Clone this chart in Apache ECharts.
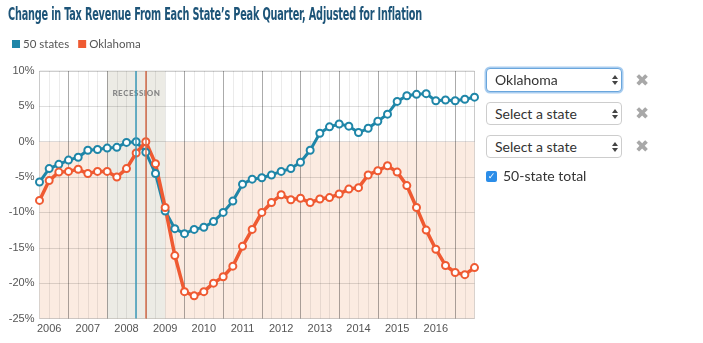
<!DOCTYPE html>
<html>
<head>
<meta charset="utf-8">
<script src="https://cdn.jsdelivr.net/npm/echarts@6/dist/echarts.min.js"></script>
<style>
  html, body { margin: 0; padding: 0; background: #fff; }
  #wrap { position: relative; width: 703px; height: 343px; overflow: hidden; }
  #chart { position: absolute; left: 0; top: 0; width: 703px; height: 343px; }
  #title {
    position: absolute; left: 8px; top: 4px; white-space: nowrap;
    font: bold 17px "DejaVu Sans Condensed", "Liberation Sans Narrow", sans-serif;
    color: #1d5478; transform-origin: 0 0; letter-spacing: -0.3px;
  }
  .sel {
    position: absolute; left: 486px; width: 136px; height: 23px;
    box-sizing: border-box; border: 1px solid #cdcdcd; border-radius: 4px;
    background: #fff; font: 14px Lato, sans-serif; color: #333;
    line-height: 21px; padding-left: 8px;
  }
  .sel.focus { border: 1px solid #6aa6dc; box-shadow: 0 0 0 1.5px #a9cdf0; }
  .arr { position: absolute; right: 6px; top: 6px; width: 0; height: 0; }
  .arr::before, .arr::after {
    content: ""; position: absolute; left: -3px; width: 0; height: 0;
    border-left: 3px solid transparent; border-right: 3px solid transparent;
  }
  .arr::before { top: 0; border-bottom: 4px solid #444; }
  .arr::after { top: 6px; border-top: 4px solid #444; }
  .x {
    position: absolute; left: 634px; width: 16px; height: 16px;
    font: 17px "DejaVu Sans", sans-serif; color: #a8a8a8; line-height: 16px;
    text-align: center;
  }
  .chk {
    position: absolute; left: 486px; top: 171px; width: 11px; height: 11px;
    border-radius: 2px; background: #2b8de8; color: #fff;
    font: bold 9px "DejaVu Sans", sans-serif; line-height: 11px; text-align: center;
  }
  .chkl { position: absolute; left: 503px; top: 167px; font: 14px Lato, sans-serif; color: #333; }
</style>
</head>
<body>
<div id="wrap">
  <div id="chart"></div>
  <div id="title">Change in Tax Revenue From Each State’s Peak Quarter, Adjusted for Inflation</div>
  <div class="sel focus" style="top:68px;height:24px;">Oklahoma<span class="arr"></span></div>
  <div class="x" style="top:72px;">✖</div>
  <div class="sel" style="top:102px;">Select a state<span class="arr"></span></div>
  <div class="x" style="top:105px;">✖</div>
  <div class="sel" style="top:135px;">Select a state<span class="arr"></span></div>
  <div class="x" style="top:138px;">✖</div>
  <div class="chk">✓</div>
  <div class="chkl">50-state total</div>
</div>
<script>
// Fit the condensed headline to its column width
(function () {
  const t = document.getElementById('title');
  const w = t.getBoundingClientRect().width;
  t.style.transform = 'scaleX(' + (414 / w) + ')';
})();

// Quarterly periods on the x axis
const quarters = [
  '2006 Q1','2006 Q2','2006 Q3','2006 Q4',
  '2007 Q1','2007 Q2','2007 Q3','2007 Q4',
  '2008 Q1','2008 Q2','2008 Q3','2008 Q4',
  '2009 Q1','2009 Q2','2009 Q3','2009 Q4',
  '2010 Q1','2010 Q2','2010 Q3','2010 Q4',
  '2011 Q1','2011 Q2','2011 Q3','2011 Q4',
  '2012 Q1','2012 Q2','2012 Q3','2012 Q4',
  '2013 Q1','2013 Q2','2013 Q3','2013 Q4',
  '2014 Q1','2014 Q2','2014 Q3','2014 Q4',
  '2015 Q1','2015 Q2','2015 Q3','2015 Q4',
  '2016 Q1','2016 Q2','2016 Q3','2016 Q4',
  '2017 Q1','2017 Q2'
];
// Year labels shown under the axis
const yearLabels = ['2006','2007','2008','2009','2010','2011','2012','2013','2014','2015','2016'];

// Percent change from each peak quarter
const states50 = [
  -5.7, -3.8, -3.2, -2.6, -2.2, -1.2, -1.1, -0.9, -0.8, -0.1,
  0.0, -1.5, -4.5, -9.8, -12.3, -13.0, -12.4, -12.1, -11.3, -10.0,
  -8.4, -6.0, -5.3, -5.1, -4.7, -4.2, -3.8, -2.9, -1.2, 1.2,
  2.1, 2.5, 2.2, 1.3, 1.9, 2.9, 3.9, 5.7, 6.5, 6.7,
  6.8, 5.8, 5.9, 5.8, 6.0, 6.3
];
const oklahoma = [
  -8.3, -5.5, -4.3, -4.2, -3.9, -4.5, -4.2, -4.2, -5.0, -3.8,
  -1.6, 0.0, -3.1, -9.3, -16.1, -21.2, -21.8, -21.2, -20.0, -19.1,
  -17.6, -14.8, -12.4, -10.0, -8.6, -7.5, -8.2, -8.0, -8.6, -8.1,
  -7.9, -7.4, -6.7, -6.5, -4.7, -4.1, -3.4, -4.3, -6.2, -9.3,
  -12.5, -15.2, -17.5, -18.5, -18.8, -17.8
];

const recession = ['2007 Q4', '2009 Q2'];
const peak50 = '2008 Q3';
const peakOK = '2008 Q4';
const yMin = -25, yMax = 10, yStep = 5;

const BLUE = '#1f86a8';
const ORANGE = '#ef5a32';

const chart = echarts.init(document.getElementById('chart'), null, { renderer: 'canvas' });

chart.setOption({
  animation: false,
  legend: {
    left: 7, top: 33, itemWidth: 8, itemHeight: 8, itemGap: 9,
    icon: 'rect',
    textStyle: { fontFamily: 'Lato, sans-serif', fontSize: 11.5, color: '#555', padding: [0, 0, 0, -2] },
    data: [
      { name: '50 states', itemStyle: { color: BLUE, borderWidth: 0 } },
      { name: 'Oklahoma', itemStyle: { color: ORANGE, borderWidth: 0 } }
    ]
  },
  grid: {
    left: 39.5, right: 228.5, top: 71, bottom: 24.5,
    show: true, backgroundColor: '#fff', borderColor: '#dcdcdc', borderWidth: 1
  },
  xAxis: [
    {
      type: 'category', data: quarters, boundaryGap: false, z: 2,
      axisLine: { show: false }, axisTick: { show: false },
      axisLabel: {
        interval: (i, v) => v.endsWith('Q2') && yearLabels.includes(v.slice(0, 4)),
        formatter: (v) => v.slice(0, 4),
        fontFamily: '"Liberation Sans", Arial, sans-serif', fontSize: 11, color: '#555', margin: 5
      },
      splitLine: { show: true, interval: 0, lineStyle: { color: 'rgba(0,0,0,0.08)', width: 1 } }
    },
    {
      type: 'category', data: quarters, boundaryGap: false, z: 2, position: 'bottom',
      axisLine: { show: false }, axisTick: { show: false }, axisLabel: { show: false },
      splitLine: { show: true, interval: (i) => i % 4 === 3, lineStyle: { color: 'rgba(0,0,0,0.27)', width: 1 } }
    }
  ],
  yAxis: {
    type: 'value', min: yMin, max: yMax, interval: yStep, z: 2,
    axisLine: { show: false }, axisTick: { show: false },
    axisLabel: {
      formatter: '{value}%', fontFamily: '"Liberation Sans", Arial, sans-serif',
      fontSize: 11, color: '#555', margin: 5
    },
    splitLine: { lineStyle: { color: 'rgba(0,0,0,0.13)', width: 1 } }
  },
  series: [
    {
      name: 'bands', type: 'line', data: [], z: 1, silent: true,
      markArea: {
        silent: true,
        data: [
          [{ yAxis: 0, itemStyle: { color: '#fbebe1' } }, { yAxis: yMin }],
          [{
            xAxis: recession[0], itemStyle: { color: '#ecebe5' },
            label: {
              show: true, position: 'insideTop', distance: 18,
              formatter: 'R\u200AE\u200AC\u200AE\u200AS\u200AS\u200AI\u200AO\u200AN', color: '#878787',
              fontFamily: 'Lato, sans-serif', fontSize: 8, fontWeight: 900
            }
          }, { xAxis: recession[1] }]
        ]
      }
    },
    {
      name: '50 states', type: 'line', data: states50, z: 3,
      symbol: 'circle', symbolSize: 7, showAllSymbol: true,
      lineStyle: { color: BLUE, width: 3 },
      itemStyle: { color: '#fff', borderColor: BLUE, borderWidth: 2 },
      markLine: {
        silent: true, symbol: 'none', label: { show: false },
        lineStyle: { color: '#3a9ab8', width: 1.5, type: 'solid' },
        data: [{ xAxis: peak50 }]
      }
    },
    {
      name: 'Oklahoma', type: 'line', data: oklahoma, z: 3,
      symbol: 'circle', symbolSize: 7, showAllSymbol: true,
      lineStyle: { color: ORANGE, width: 3.5 },
      itemStyle: { color: '#fff', borderColor: ORANGE, borderWidth: 2 },
      markLine: {
        silent: true, symbol: 'none', label: { show: false },
        lineStyle: { color: '#d8714e', width: 1.5, type: 'solid' },
        data: [{ xAxis: peakOK }]
      }
    }
  ]
});
</script>
</body>
</html>
